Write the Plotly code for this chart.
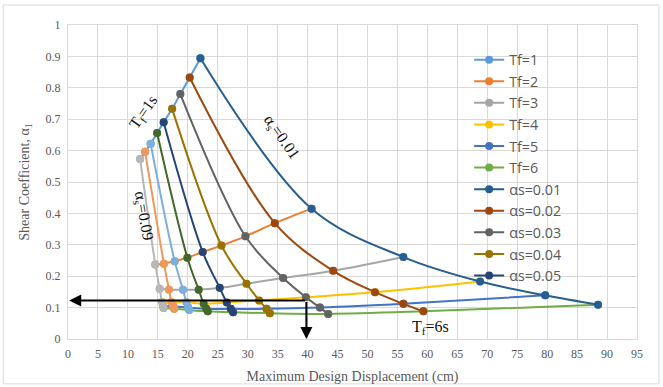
import plotly.graph_objects as go

# ---- data ----
tf_labels = ["Tf=1", "Tf=2", "Tf=3", "Tf=4", "Tf=5", "Tf=6"]
alpha_labels = ["αs=0.01", "αs=0.02", "αs=0.03", "αs=0.04", "αs=0.05",
                "αs=0.06", "αs=0.07", "αs=0.08", "αs=0.09"]

# Maximum design displacement (cm) for Tf = 1..6, one list per alpha_s
disp_a001 = [22.11, 40.67, 55.99, 68.81, 79.68, 88.50]
disp_a002 = [20.32, 34.53, 44.28, 51.25, 55.99, 59.33]
disp_a003 = [18.76, 29.63, 35.92, 39.72, 42.06, 43.44]
disp_a004 = [17.39, 25.62, 29.80, 31.91, 33.14, 33.70]
disp_a005 = [15.97, 22.49, 25.33, 26.51, 27.17, 27.56]
disp_a006 = [14.88, 19.93, 21.82, 22.66, 23.08, 23.33]
disp_a007 = [13.80, 17.81, 19.20, 19.77, 20.07, 20.23]
disp_a008 = [12.88, 16.02, 16.86, 17.26, 17.56, 17.73]
disp_a009 = [12.04, 14.58, 15.30, 15.69, 15.89, 15.97]

# Shear coefficient alpha_1 for Tf = 1..6, one list per alpha_s
shear_a001 = [0.894, 0.415, 0.261, 0.183, 0.139, 0.109]
shear_a002 = [0.833, 0.369, 0.217, 0.149, 0.112, 0.088]
shear_a003 = [0.780, 0.327, 0.194, 0.133, 0.100, 0.080]
shear_a004 = [0.733, 0.298, 0.176, 0.123, 0.096, 0.082]
shear_a005 = [0.690, 0.277, 0.163, 0.116, 0.096, 0.085]
shear_a006 = [0.656, 0.259, 0.157, 0.112, 0.096, 0.088]
shear_a007 = [0.622, 0.248, 0.157, 0.117, 0.100, 0.092]
shear_a008 = [0.596, 0.240, 0.157, 0.117, 0.104, 0.096]
shear_a009 = [0.573, 0.237, 0.160, 0.118, 0.105, 0.099]

disp = [disp_a001, disp_a002, disp_a003, disp_a004, disp_a005,
        disp_a006, disp_a007, disp_a008, disp_a009]
shear = [shear_a001, shear_a002, shear_a003, shear_a004, shear_a005,
         shear_a006, shear_a007, shear_a008, shear_a009]

# design point marked by arrows
design_disp = 39.8
design_shear = 0.123

x_ticks = list(range(0, 96, 5))

# ---- styles ----
tf_colors = ["#5B9BD5", "#ED7D31", "#A5A5A5", "#FFC000", "#4472C4", "#70AD47"]
alpha_colors = ["#255E91", "#9E480E", "#636363", "#997300", "#264478",
                "#43682B", "#7CAFDD", "#F1975A", "#B7B7B7"]
alpha_in_legend = [True, True, True, True, True, False, False, False, False]

serif = "Liberation Serif, Times New Roman, serif"
sans = "Open Sans, Noto Sans, Arial, sans-serif"

fig = go.Figure()

for j, name in enumerate(tf_labels):
    fig.add_trace(go.Scatter(
        x=[d[j] for d in disp], y=[s[j] for s in shear],
        mode="lines+markers", name=name,
        line=dict(color=tf_colors[j], width=2, shape="spline"),
        marker=dict(color=tf_colors[j], size=8),
    ))

for i, name in enumerate(alpha_labels):
    fig.add_trace(go.Scatter(
        x=disp[i], y=shear[i],
        mode="lines+markers", name=name, showlegend=alpha_in_legend[i],
        line=dict(color=alpha_colors[i], width=2, shape="spline"),
        marker=dict(color=alpha_colors[i], size=8),
    ))

ann_font = dict(family=serif, size=16, color="#111111")
fig.add_annotation(x=12.7, y=0.72, xref="x", yref="y", text="T<sub>f</sub>=1s",
                   showarrow=False, textangle=-55, font=ann_font)
fig.add_annotation(x=35.6, y=0.641, xref="x", yref="y", text="α<sub>s</sub>=0.01",
                   showarrow=False, textangle=55, font=ann_font)
fig.add_annotation(x=12.6, y=0.39, xref="x", yref="y", text="α<sub>s</sub>=0.09",
                   showarrow=False, textangle=80, font=ann_font)
fig.add_annotation(x=60.45, y=0.038, xref="x", yref="y", text="T<sub>f</sub>=6s",
                   showarrow=False, font=ann_font)

# arrows
fig.add_annotation(x=0.2, y=design_shear, ax=design_disp, ay=design_shear,
                   xref="x", yref="y", axref="x", ayref="y", text="",
                   showarrow=True, arrowhead=2, arrowsize=1.2, arrowwidth=2,
                   arrowcolor="black")
fig.add_annotation(x=design_disp, y=0.0, ax=design_disp, ay=design_shear,
                   xref="x", yref="y", axref="x", ayref="y", text="",
                   showarrow=True, arrowhead=2, arrowsize=1.2, arrowwidth=2,
                   arrowcolor="black")

# outer chart border
fig.add_shape(type="rect", xref="paper", yref="paper",
              x0=-0.114, x1=1.0387, y0=-0.143, y1=1.0637,
              line=dict(color="#D9D9D9", width=1))

fig.update_layout(
    width=663, height=387,
    margin=dict(l=68, r=26, t=25, b=48),
    plot_bgcolor="white", paper_bgcolor="white",
    showlegend=True,
    legend=dict(x=0.705, y=0.94, xanchor="left", yanchor="top",
                bgcolor="rgba(0,0,0,0)", font=dict(family=sans, size=14.3, color="#595959"),
                tracegroupgap=0, itemwidth=30),
)
fig.update_xaxes(range=[0, 95], tickvals=x_ticks, showgrid=True, gridcolor="#D9D9D9",
                 gridwidth=1, zeroline=False, showline=True, linecolor="#D9D9D9",
                 mirror=True, ticks="", ticklabelstandoff=4, automargin=False,
                 tickfont=dict(family=serif, size=12, color="#595959"),
                 title=dict(text="Maximum Design Displacement (cm)",
                            font=dict(family=serif, size=14, color="#595959"), standoff=10))
fig.update_yaxes(range=[0, 1], dtick=0.1, showgrid=True, gridcolor="#D9D9D9",
                 gridwidth=1, zeroline=False, showline=True, linecolor="#D9D9D9",
                 mirror=True, ticks="", automargin=False, ticklabelstandoff=4,
                 tickfont=dict(family=serif, size=12, color="#595959"),
                 title=dict(text="Shear Coefficient, α<sub>1</sub>",
                            font=dict(family=serif, size=14, color="#595959"), standoff=12))

fig.write_html("out.html", config={"displayModeBar": False},
               post_script="document.body.style.margin='0';")
